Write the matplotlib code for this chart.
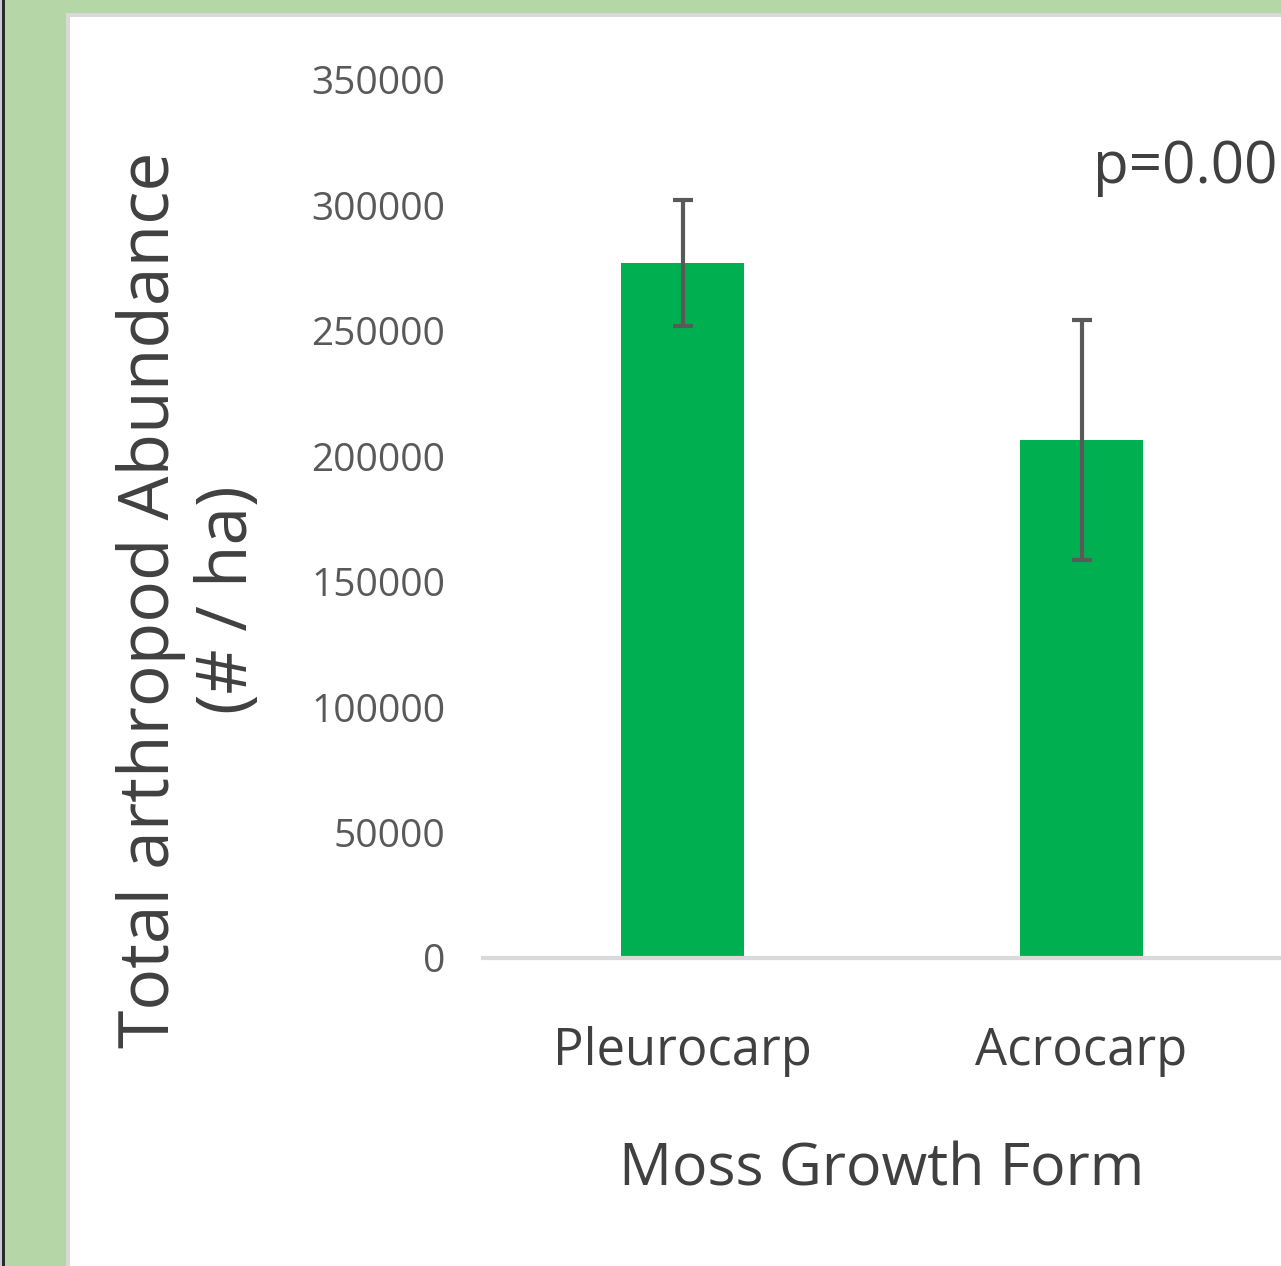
import matplotlib.pyplot as plt
from matplotlib.patches import Rectangle

categories = ["Pleurocarp", "Acrocarp"]
abundance = [277000, 206500]
errors = [25000, 48000]
y_ticks = [0, 50000, 100000, 150000, 200000, 250000, 300000, 350000]

plt.rcParams['font.family'] = ['Open Sans', 'DejaVu Sans']

W, H = 1281, 1266
fig = plt.figure(figsize=(W / 100, H / 100), dpi=100)
fig.patch.set_facecolor('#b5d6a7')

# slide decoration: dark strip, panel border, white panel (behind the axes)
def backdrop(x0, y0, w, h, color):
    fig.patches.append(Rectangle((x0, y0), w, h, transform=fig.transFigure,
                                 facecolor=color, edgecolor='none', zorder=-5))

backdrop(0, 0, 2 / W, 1, '#c8ccd0')
backdrop(2 / W, 0, 3 / W, 1, '#2a2a2a')
backdrop(66 / W, 0, 1, 1 - 13 / H, '#d9d9d9')
backdrop(70 / W, 0, 1, 1 - 17 / H, 'white')

ax = fig.add_axes([483 / W, 1 - 958 / H, (1281 - 483) / W, (958 - 80) / H])
ax.set_facecolor('none')

x = range(len(categories))
ax.bar(x, abundance, width=0.31, color='#00b050', zorder=2)
ax.errorbar(x, abundance, yerr=errors, fmt='none', ecolor='#595959',
            elinewidth=3, capsize=7.5, capthick=3, zorder=3)

ax.set_xlim(-0.5, 1.5)
ax.set_ylim(0, 350000)
ax.set_yticks(y_ticks)
ax.set_yticklabels([str(v) for v in y_ticks], fontsize=28, color='#595959')
ax.set_xticks(list(x))
ax.set_xticklabels(categories, fontsize=36.5, color='#404040')
ax.tick_params(axis='both', length=0)
ax.tick_params(axis='y', pad=27)
ax.tick_params(axis='x', pad=49)

for s in ['top', 'right', 'left']:
    ax.spines[s].set_visible(False)
ax.spines['bottom'].set_color('#d9d9d9')
ax.spines['bottom'].set_linewidth(3)

ax.set_xlabel("Moss Growth Form", fontsize=42.5, color='#404040', labelpad=46)
fig.text(190 / W, 1 - 600 / H, "Total arthropod Abundance\n(# / ha)",
         rotation=90, ha='center', va='center', fontsize=50, color='#404040',
         linespacing=1.15)

fig.text(1093 / W, 1 - 168 / H, "p=0.00", fontsize=42, color='#404040',
         ha='left', va='center')

fig.savefig("out.png", dpi=100)
